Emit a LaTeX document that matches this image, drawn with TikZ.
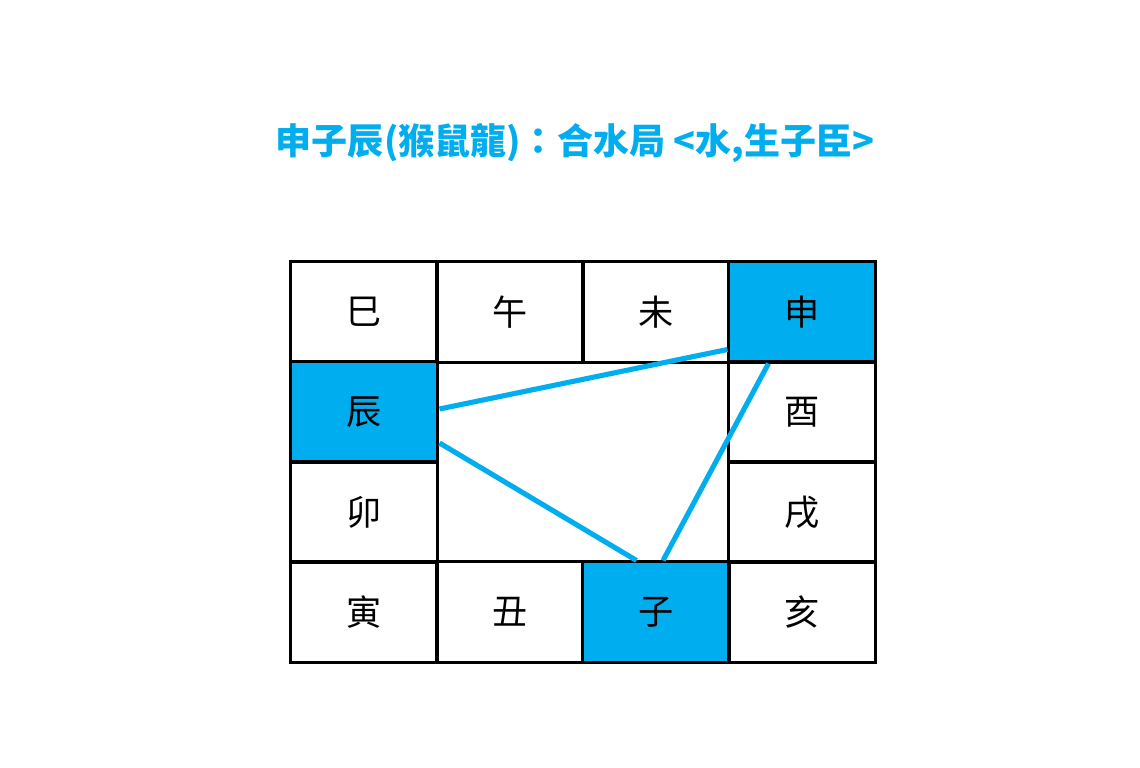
\documentclass[tikz,border=0pt]{standalone}
\usepackage{fontspec}
\setmainfont{Noto Sans CJK TC}
\usetikzlibrary{calc}
\definecolor{shuiblue}{HTML}{00AEEF}
\begin{document}
\begin{tikzpicture}[x=0.01cm,y=-0.01cm,
  cell/.style={draw=black,line width=0.85pt,minimum width=1.46cm,minimum height=1cm,
    inner sep=0pt,font=\fontsize{10}{12}\selectfont},
  hit/.style={cell,fill=shuiblue},
  link/.style={draw=shuiblue,line width=1.45pt}]
\useasboundingbox (0,0) rectangle (1140,768);
\node[text=shuiblue,font=\bfseries\fontsize{10.25}{12}\selectfont] (title) at (575,143)
  {申子辰(猴鼠龍)：合水局 <水,生子臣>};
\foreach \nm/\ch/\x/\y/\sty in {si/巳/364/312/cell, wu/午/510/312/cell, wei/未/656/312/cell,
  shen/申/802/312/hit, chen/辰/364/412/hit, you/酉/802/412/cell, mao/卯/364/512/cell,
  xu/戌/802/512/cell, yin/寅/364/612/cell, chou/丑/510/612/cell, zi/子/656/612/hit,
  hai/亥/802/612/cell}
  \node[\sty] (\nm) at (\x,\y) {\ch};
% triangle of the water frame
\coordinate (a1) at ($(chen.east)+(1,-3)$);
\coordinate (a2) at ($(shen.south west)+(0,-14)$);
\coordinate (b1) at ($(chen.east)+(1,31)$);
\coordinate (b2) at ($(zi.north west)+(55,0)$);
\coordinate (c1) at ($(shen.south west)+(41,0)$);
\coordinate (c2) at ($(zi.north)+(7,0)$);
\draw[link] (a1) -- (a2);
\draw[link] (b1) -- (b2);
\draw[link] (c1) -- (c2);
\end{tikzpicture}
\end{document}
